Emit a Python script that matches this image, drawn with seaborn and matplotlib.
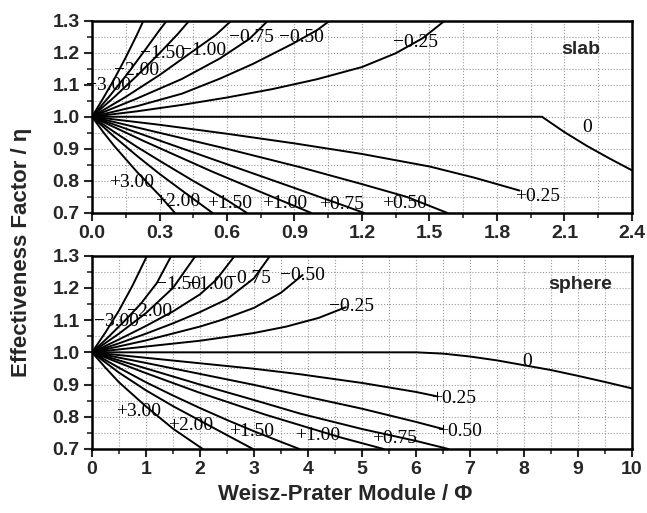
import pandas as pd
import matplotlib
matplotlib.use("Agg")
import matplotlib.pyplot as plt
import seaborn as sns
from matplotlib.ticker import MultipleLocator, FormatStrFormatter

# reaction orders, in the same order as the curve arrays below
orders = ["−3.00", "−2.00", "−1.50", "−1.00", "−0.75", "−0.50", "−0.25", "0",
          "+0.25", "+0.50", "+0.75", "+1.00", "+1.50", "+2.00", "+3.00"]

# ---- slab (Weisz-Prater module / effectiveness factor)
slab_m300_phi = [0, 0.05, 0.1, 0.15, 0.2, 0.229]
slab_m300_eta = [1.0, 1.058, 1.119, 1.185, 1.256, 1.3]
slab_m200_phi = [0, 0.08, 0.16, 0.24, 0.3, 0.333]
slab_m200_eta = [1.0, 1.066, 1.136, 1.212, 1.27, 1.3]
slab_m150_phi = [0, 0.1, 0.2, 0.3, 0.38, 0.433]
slab_m150_eta = [1.0, 1.062, 1.128, 1.198, 1.257, 1.3]
slab_m100_phi = [0, 0.15, 0.3, 0.45, 0.55, 0.62]
slab_m100_eta = [1.0, 1.062, 1.13, 1.205, 1.255, 1.3]
slab_m075_phi = [0, 0.2, 0.4, 0.569, 0.7, 0.783]
slab_m075_eta = [1.0, 1.057, 1.118, 1.182, 1.243, 1.3]
slab_m050_phi = [0, 0.2, 0.4, 0.569, 0.716, 0.893, 1.0, 1.058]
slab_m050_eta = [1.0, 1.033, 1.072, 1.119, 1.165, 1.228, 1.27, 1.3]
slab_m025_phi = [0, 0.2, 0.4, 0.6, 0.8, 1.0, 1.2, 1.35, 1.47, 1.569]
slab_m025_eta = [1.0, 1.017, 1.037, 1.06, 1.086, 1.117, 1.155, 1.198, 1.245, 1.3]
slab_p000_phi = [0, 2.0, 2.1, 2.2, 2.3, 2.4]
slab_p000_eta = [1.0, 1.0, 0.952, 0.909, 0.87, 0.833]
slab_p025_phi = [0, 0.3, 0.6, 0.9, 1.2, 1.5, 1.7, 1.9]
slab_p025_eta = [1.0, 0.975, 0.947, 0.917, 0.884, 0.845, 0.81, 0.77]
slab_p050_phi = [0, 0.3, 0.6, 0.924, 1.2, 1.4, 1.58]
slab_p050_eta = [1.0, 0.95, 0.9, 0.843, 0.79, 0.75, 0.7]
slab_p075_phi = [0, 0.3, 0.6, 0.9, 1.1, 1.21]
slab_p075_eta = [1.0, 0.926, 0.852, 0.778, 0.728, 0.7]
slab_p100_phi = [0, 0.231, 0.531, 0.762, 0.975]
slab_p100_eta = [1.0, 0.924, 0.83, 0.762, 0.7]
slab_p150_phi = [0, 0.1, 0.2, 0.3, 0.45, 0.6, 0.689]
slab_p150_eta = [1.0, 0.952, 0.906, 0.863, 0.8, 0.74, 0.7]
slab_p200_phi = [0, 0.1, 0.2, 0.3, 0.4, 0.536]
slab_p200_eta = [1.0, 0.937, 0.878, 0.822, 0.77, 0.7]
slab_p300_phi = [0, 0.05, 0.1, 0.2, 0.3, 0.369]
slab_p300_eta = [1.0, 0.952, 0.908, 0.828, 0.755, 0.7]

# ---- sphere
sph_m300_phi = [0, 0.25, 0.5, 0.75, 1.02]
sph_m300_eta = [1.0, 1.062, 1.13, 1.207, 1.3]
sph_m200_phi = [0, 0.3, 0.6, 0.9, 1.2, 1.47]
sph_m200_eta = [1.0, 1.047, 1.097, 1.15, 1.215, 1.3]
sph_m150_phi = [0, 0.5, 1.0, 1.5, 1.92]
sph_m150_eta = [1.0, 1.058, 1.122, 1.2, 1.3]
sph_m100_phi = [0, 0.5, 1.0, 1.5, 2.0, 2.3, 2.645]
sph_m100_eta = [1.0, 1.04, 1.082, 1.127, 1.18, 1.225, 1.3]
sph_m075_phi = [0, 0.5, 1.0, 1.5, 2.0, 2.5, 3.0, 3.3]
sph_m075_eta = [1.0, 1.028, 1.058, 1.09, 1.125, 1.165, 1.23, 1.3]
sph_m050_phi = [0, 1.0, 2.0, 2.37, 3.0, 3.5, 3.9]
sph_m050_eta = [1.0, 1.037, 1.08, 1.099, 1.138, 1.185, 1.24]
sph_m025_phi = [0, 1.0, 2.0, 3.0, 3.6, 4.2, 4.7]
sph_m025_eta = [1.0, 1.018, 1.036, 1.06, 1.08, 1.107, 1.14]
sph_p000_phi = [0, 6.0, 6.5, 7.0, 7.5, 8.0, 8.5, 9.0, 9.5, 10.0]
sph_p000_eta = [1.0, 1.0, 0.996, 0.987, 0.975, 0.96, 0.945, 0.927, 0.908, 0.888]
sph_p025_phi = [0, 1, 2, 3, 3.85, 5, 6, 6.4]
sph_p025_eta = [1.0, 0.983, 0.966, 0.949, 0.932, 0.905, 0.877, 0.863]
sph_p050_phi = [0, 1, 2, 3, 3.85, 5, 6, 6.5]
sph_p050_eta = [1.0, 0.967, 0.933, 0.899, 0.867, 0.825, 0.784, 0.762]
sph_p075_phi = [0, 1, 2, 3, 3.85, 5, 6, 6.6]
sph_p075_eta = [1.0, 0.95, 0.9, 0.852, 0.81, 0.762, 0.725, 0.7]
sph_p100_phi = [0, 0.94, 1.97, 3.22, 4.6, 5.4]
sph_p100_eta = [1.0, 0.939, 0.876, 0.806, 0.736, 0.7]
sph_p150_phi = [0, 0.5, 1.0, 1.5, 2.0, 2.5, 3.0, 3.5, 3.84]
sph_p150_eta = [1.0, 0.952, 0.907, 0.866, 0.827, 0.79, 0.755, 0.722, 0.7]
sph_p200_phi = [0, 0.5, 1.0, 1.5, 2.0, 2.5, 2.98]
sph_p200_eta = [1.0, 0.937, 0.882, 0.833, 0.788, 0.743, 0.7]
sph_p300_phi = [0, 0.25, 0.5, 1.0, 1.5, 2.05]
sph_p300_eta = [1.0, 0.952, 0.907, 0.832, 0.763, 0.7]

slab_curves = [
    (slab_m300_phi, slab_m300_eta), (slab_m200_phi, slab_m200_eta),
    (slab_m150_phi, slab_m150_eta), (slab_m100_phi, slab_m100_eta),
    (slab_m075_phi, slab_m075_eta), (slab_m050_phi, slab_m050_eta),
    (slab_m025_phi, slab_m025_eta), (slab_p000_phi, slab_p000_eta),
    (slab_p025_phi, slab_p025_eta), (slab_p050_phi, slab_p050_eta),
    (slab_p075_phi, slab_p075_eta), (slab_p100_phi, slab_p100_eta),
    (slab_p150_phi, slab_p150_eta), (slab_p200_phi, slab_p200_eta),
    (slab_p300_phi, slab_p300_eta),
]
sphere_curves = [
    (sph_m300_phi, sph_m300_eta), (sph_m200_phi, sph_m200_eta),
    (sph_m150_phi, sph_m150_eta), (sph_m100_phi, sph_m100_eta),
    (sph_m075_phi, sph_m075_eta), (sph_m050_phi, sph_m050_eta),
    (sph_m025_phi, sph_m025_eta), (sph_p000_phi, sph_p000_eta),
    (sph_p025_phi, sph_p025_eta), (sph_p050_phi, sph_p050_eta),
    (sph_p075_phi, sph_p075_eta), (sph_p100_phi, sph_p100_eta),
    (sph_p150_phi, sph_p150_eta), (sph_p200_phi, sph_p200_eta),
    (sph_p300_phi, sph_p300_eta),
]

# where the order labels sit on each panel (data coords)
slab_label_pos = [(0.073, 1.098), (0.20, 1.145), (0.312, 1.197), (0.495, 1.207),
                  (0.71, 1.248), (0.93, 1.248), (1.44, 1.233), (2.2, 0.965),
                  (1.98, 0.75), (1.39, 0.73), (1.11, 0.727), (0.858, 0.73),
                  (0.613, 0.73), (0.38, 0.735), (0.177, 0.794)]
sphere_label_pos = [(0.46, 1.097), (1.07, 1.128), (1.6, 1.21), (2.2, 1.21),
                    (2.9, 1.23), (3.9, 1.24), (4.8, 1.142), (8.06, 0.971),
                    (6.7, 0.857), (6.81, 0.753), (5.61, 0.733), (4.17, 0.743),
                    (2.96, 0.753), (1.83, 0.774), (0.87, 0.815)]


def to_long(curves):
    rows = []
    for label, (phi, eta) in zip(orders, curves):
        for p, e in zip(phi, eta):
            rows.append({"order": label, "phi": p, "eta": e})
    return pd.DataFrame(rows)


sns.set_theme(style="ticks")
plt.rcParams["font.family"] = ["Liberation Sans", "DejaVu Sans"]
plt.rcParams["axes.unicode_minus"] = False


def draw_panel(ax, curves, label_pos, xmax, xmajor, xminor, xfmt, name):
    df = to_long(curves)
    sns.lineplot(data=df, x="phi", y="eta", hue="order", palette=["black"] * len(orders),
                 estimator=None, sort=False, legend=False, linewidth=1.4, ax=ax)
    ax.set_xlim(0, xmax)
    ax.set_ylim(0.7, 1.3)
    ax.xaxis.set_major_locator(MultipleLocator(xmajor))
    ax.xaxis.set_minor_locator(MultipleLocator(xminor))
    ax.yaxis.set_major_locator(MultipleLocator(0.1))
    ax.yaxis.set_minor_locator(MultipleLocator(0.05))
    ax.xaxis.set_major_formatter(FormatStrFormatter(xfmt))
    ax.yaxis.set_major_formatter(FormatStrFormatter("%.1f"))
    ax.grid(which="both", color="#9a9a9a", linestyle=":", linewidth=0.8)
    ax.set_axisbelow(True)
    ax.tick_params(which="major", direction="out", length=6, width=1.5,
                   labelsize=14, pad=3)
    ax.tick_params(which="minor", direction="out", length=3.5, width=1.2)
    for lab in ax.get_xticklabels() + ax.get_yticklabels():
        lab.set_fontweight("bold")
    for sp in ax.spines.values():
        sp.set_linewidth(1.8)
        sp.set_color("black")
    ax.set_xlabel("")
    ax.set_ylabel("")
    for txt, (x, y) in zip(orders, label_pos):
        ax.text(x, y, txt, ha="center", va="center", fontsize=14,
                family=["Liberation Serif", "DejaVu Serif"], color="black")
    ax.text(0.905, 0.85, name, transform=ax.transAxes, ha="center", va="center",
            fontsize=14, fontweight="bold")


fig = plt.figure(figsize=(6.47, 5.13), dpi=100)
ax_top = fig.add_axes([0.1422, 0.5848, 0.8346, 0.3752])
ax_bot = fig.add_axes([0.1422, 0.1248, 0.8346, 0.3768])

draw_panel(ax_top, slab_curves, slab_label_pos, 2.4, 0.3, 0.15, "%.1f", "slab")
draw_panel(ax_bot, sphere_curves, sphere_label_pos, 10, 1, 0.5, "%d", "sphere")

fig.text(0.034, 0.508, "Effectiveness Factor / η", rotation=90, ha="center",
         va="center", fontsize=16, fontweight="bold")
fig.text(0.533, 0.037, "Weisz-Prater Module / Φ", ha="center", va="center",
         fontsize=16, fontweight="bold")

fig.savefig("out.png", dpi=100, facecolor="white")
